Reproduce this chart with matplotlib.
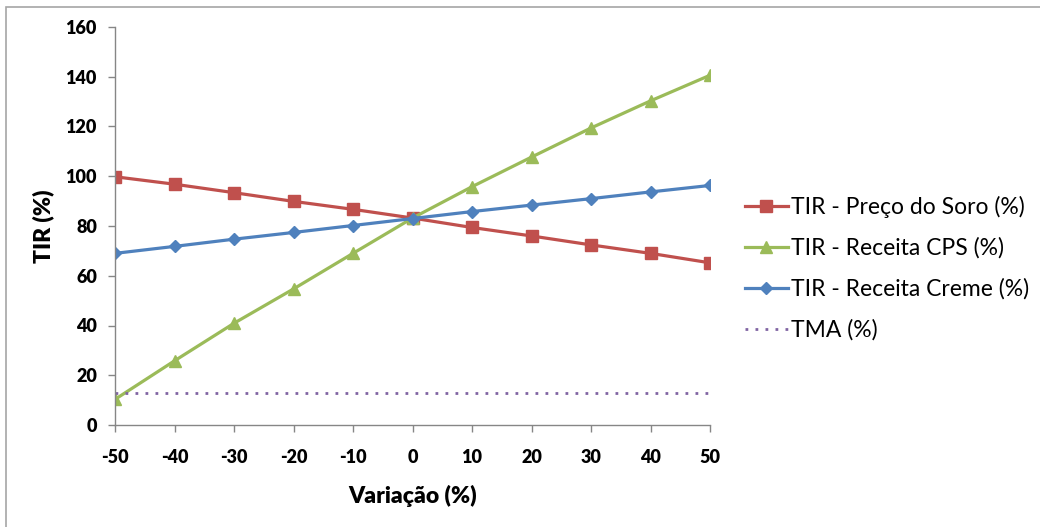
import matplotlib.pyplot as plt
from matplotlib.patches import Rectangle

# variação (%) e TIR (%) para cada cenário
variacao = [-50, -40, -30, -20, -10, 0, 10, 20, 30, 40, 50]
tir_preco_soro = [99.8, 96.8, 93.4, 89.9, 86.7, 83.2, 79.4, 76.0, 72.4, 69.0, 65.2]
tir_receita_cps = [10.3, 25.8, 40.9, 54.7, 69.0, 83.2, 95.8, 107.7, 119.4, 130.3, 140.6]
tir_receita_creme = [69.0, 71.8, 74.7, 77.4, 80.2, 83.0, 85.8, 88.4, 91.0, 93.7, 96.3]
tma = [13.0] * len(variacao)

plt.rcParams['font.family'] = ['Lato', 'DejaVu Sans']
plt.rcParams['axes.unicode_minus'] = False

fig = plt.figure(figsize=(10.4, 5.27), dpi=100)
ax = fig.add_axes([115 / 1040, 1 - 425 / 527, 595 / 1040, 398 / 527])

# moldura cinza da área do gráfico
fig.patches.append(Rectangle((6 / 1040, -0.1), 1.2, 1 - 7 / 527 + 0.1,
                             transform=fig.transFigure, fill=False,
                             edgecolor='#a6a6a6', linewidth=1.2))

ax.plot(variacao, tir_preco_soro, color='#C0504D', lw=2.3, marker='s', ms=8.5,
        label='TIR - Preço do Soro (%)')
ax.plot(variacao, tir_receita_cps, color='#9BBB59', lw=2.3, marker='^', ms=9,
        label='TIR - Receita CPS (%)')
ax.plot(variacao, tir_receita_creme, color='#4F81BD', lw=2.3, marker='D', ms=6,
        label='TIR - Receita Creme (%)')
ax.plot(variacao, tma, color='#8064A2', lw=2, linestyle=(0, (1, 2.6)),
        label='TMA (%)')

ax.set_xlim(-50, 50)
ax.set_ylim(0, 160)
ax.set_xticks(variacao)
ax.set_yticks(range(0, 161, 20))

for side in ['top', 'right']:
    ax.spines[side].set_visible(False)
for side in ['left', 'bottom']:
    ax.spines[side].set_color('#868686')
    ax.spines[side].set_linewidth(1)
ax.tick_params(direction='out', length=5, color='#868686', width=1,
               labelsize=13, pad=8)
for lbl in ax.get_xticklabels() + ax.get_yticklabels():
    lbl.set_fontweight('heavy')
ax.tick_params(axis='x', pad=12)
for sp in ax.spines.values():
    sp.set_clip_on(False)

ax.set_xlabel('Variação (%)', fontsize=16.5, fontweight='heavy', labelpad=14)
ax.set_ylabel('TIR (%)', fontsize=16.5, fontweight='heavy', labelpad=8)

ax.legend(loc='center left', bbox_to_anchor=(1.059, 0.394), frameon=False,
          fontsize=16.5, handlelength=1.85, handletextpad=0.15, labelspacing=0.85,
          borderaxespad=0, borderpad=0)

fig.savefig('out.png', dpi=100, facecolor='white')
